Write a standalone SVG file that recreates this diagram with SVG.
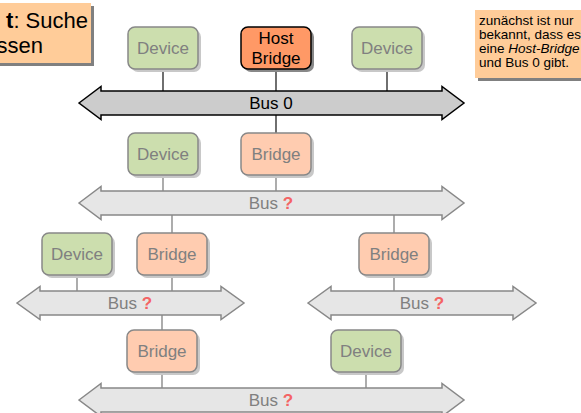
<svg xmlns="http://www.w3.org/2000/svg" width="581" height="413" viewBox="0 0 581 413">
  <defs>
    <style>
      text { font-family: "Liberation Sans", Arial, sans-serif; }
      .box { stroke: #888888; stroke-width: 1.5; }
      .dev { fill: #CCDEAE; }
      .brg { fill: #FFCCB0; }
      .shadow { fill: #C8C8C8; }
      .lbl { font-size: 17px; fill: #808080; text-anchor: middle; }
      .bus { fill: #E6E6E6; stroke: #888888; stroke-width: 1.5; stroke-linejoin: miter; }
      .q { fill: #F46464; font-weight: bold; }
      .wire { stroke: #808080; stroke-width: 1.3; fill: none; }
      .wire-on { stroke: #222222; stroke-width: 1.3; fill: none; }
      .note { fill: #FFCC99; }
      .note-shadow { fill: #808080; }
    </style>
  </defs>

  <rect width="581" height="413" fill="#FFFFFF"/>

  <!-- title note, top left -->
  <g id="title-note">
    <rect class="note-shadow" x="-10" y="6" width="104" height="60"/>
    <rect class="note" x="-10" y="3" width="101" height="60"/>
    <text x="88" y="28" font-size="22" text-anchor="end" fill="#000"><tspan font-weight="bold">t</tspan>: Suche</text>
    <text x="43" y="53" font-size="22" text-anchor="end" fill="#000">ssen</text>
  </g>

  <!-- side note, top right -->
  <g id="side-note">
    <rect class="note-shadow" x="478" y="13" width="110" height="68"/>
    <rect class="note" x="475" y="10" width="110" height="68"/>
    <text font-size="13.5" fill="#000">
      <tspan x="479" y="24.5">zunächst ist nur</tspan>
      <tspan x="479" y="38.5">bekannt, dass es</tspan>
      <tspan x="479" y="52.5">eine <tspan font-style="italic">Host-Bridge</tspan></tspan>
      <tspan x="479" y="66.5">und Bus 0 gibt.</tspan>
    </text>
  </g>

  <!-- connectors -->
  <g id="connectors">
    <line class="wire-on" x1="163" y1="69" x2="163" y2="91"/>
    <line class="wire-on" x1="276" y1="69" x2="276" y2="91"/>
    <line class="wire-on" x1="387" y1="69" x2="387" y2="91"/>
    <line class="wire-on" x1="276" y1="115" x2="276" y2="133"/>
    <line class="wire" x1="163" y1="175" x2="163" y2="191"/>
    <line class="wire" x1="276" y1="175" x2="276" y2="191"/>
    <line class="wire" x1="172" y1="215" x2="172" y2="233"/>
    <line class="wire" x1="394" y1="215" x2="394" y2="233"/>
    <line class="wire" x1="77" y1="275" x2="77" y2="291"/>
    <line class="wire" x1="172" y1="275" x2="172" y2="291"/>
    <line class="wire" x1="394" y1="275" x2="394" y2="291"/>
    <line class="wire" x1="162" y1="315" x2="162" y2="330"/>
    <line class="wire" x1="162" y1="372" x2="162" y2="388"/>
    <line class="wire" x1="366" y1="372" x2="366" y2="388"/>
  </g>

  <!-- buses -->
  <g id="bus0">
    <polygon fill="#CCCCCC" stroke="#000" stroke-width="1.5" points="79,103 101,86.5 101,91 442,91 442,86.5 464,103 442,119.5 442,115 101,115 101,119.5"/>
    <text x="271" y="109" font-size="17" text-anchor="middle" fill="#000">Bus 0</text>
  </g>
  <g id="bus-a">
    <polygon class="bus" points="79,203 101,186.5 101,191 442,191 442,186.5 464,203 442,219.5 442,215 101,215 101,219.5"/>
    <text class="lbl" x="271" y="209">Bus <tspan class="q">?</tspan></text>
  </g>
  <g id="bus-b">
    <polygon class="bus" points="17,303 40,286.5 40,291 221,291 221,286.5 244,303 221,319.5 221,315 40,315 40,319.5"/>
    <text class="lbl" x="130" y="309">Bus <tspan class="q">?</tspan></text>
  </g>
  <g id="bus-c">
    <polygon class="bus" points="308,303 331,286.5 331,291 513,291 513,286.5 536,303 513,319.5 513,315 331,315 331,319.5"/>
    <text class="lbl" x="422" y="309">Bus <tspan class="q">?</tspan></text>
  </g>
  <g id="bus-d">
    <polygon class="bus" points="79,400 101,383.5 101,388 442,388 442,383.5 464,400 442,416.5 442,412 101,412 101,416.5"/>
    <text class="lbl" x="271" y="406">Bus <tspan class="q">?</tspan></text>
  </g>

  <!-- top row -->
  <g id="device-top-left">
    <rect class="shadow" x="131" y="30" width="70" height="42" rx="7"/>
    <rect class="box dev" x="128" y="27" width="70" height="42" rx="7"/>
    <text class="lbl" x="163" y="54">Device</text>
  </g>
  <g id="host-bridge">
    <rect x="244" y="30" width="70" height="42" rx="7" fill="#888888"/>
    <rect x="241" y="27" width="70" height="42" rx="7" fill="#FF9966" stroke="#000" stroke-width="1.5"/>
    <text x="276" y="44" font-size="17" text-anchor="middle" fill="#000">Host</text>
    <text x="276" y="64" font-size="17" text-anchor="middle" fill="#000">Bridge</text>
  </g>
  <g id="device-top-right">
    <rect class="shadow" x="355" y="30" width="70" height="42" rx="7"/>
    <rect class="box dev" x="352" y="27" width="70" height="42" rx="7"/>
    <text class="lbl" x="387" y="54">Device</text>
  </g>

  <!-- second row -->
  <g id="device-2">
    <rect class="shadow" x="131" y="136" width="70" height="42" rx="7"/>
    <rect class="box dev" x="128" y="133" width="70" height="42" rx="7"/>
    <text class="lbl" x="163" y="160">Device</text>
  </g>
  <g id="bridge-2">
    <rect class="shadow" x="244" y="136" width="70" height="42" rx="7"/>
    <rect class="box brg" x="241" y="133" width="70" height="42" rx="7"/>
    <text class="lbl" x="276" y="160">Bridge</text>
  </g>

  <!-- third row -->
  <g id="device-3">
    <rect class="shadow" x="45" y="236" width="70" height="42" rx="7"/>
    <rect class="box dev" x="42" y="233" width="70" height="42" rx="7"/>
    <text class="lbl" x="77" y="260">Device</text>
  </g>
  <g id="bridge-3a">
    <rect class="shadow" x="140" y="236" width="70" height="42" rx="7"/>
    <rect class="box brg" x="137" y="233" width="70" height="42" rx="7"/>
    <text class="lbl" x="172" y="260">Bridge</text>
  </g>
  <g id="bridge-3b">
    <rect class="shadow" x="362" y="236" width="70" height="42" rx="7"/>
    <rect class="box brg" x="359" y="233" width="70" height="42" rx="7"/>
    <text class="lbl" x="394" y="260">Bridge</text>
  </g>

  <!-- fourth row -->
  <g id="bridge-4">
    <rect class="shadow" x="130" y="333" width="70" height="42" rx="7"/>
    <rect class="box brg" x="127" y="330" width="70" height="42" rx="7"/>
    <text class="lbl" x="162" y="357">Bridge</text>
  </g>
  <g id="device-4">
    <rect class="shadow" x="334" y="333" width="70" height="42" rx="7"/>
    <rect class="box dev" x="331" y="330" width="70" height="42" rx="7"/>
    <text class="lbl" x="366" y="357">Device</text>
  </g>
</svg>
